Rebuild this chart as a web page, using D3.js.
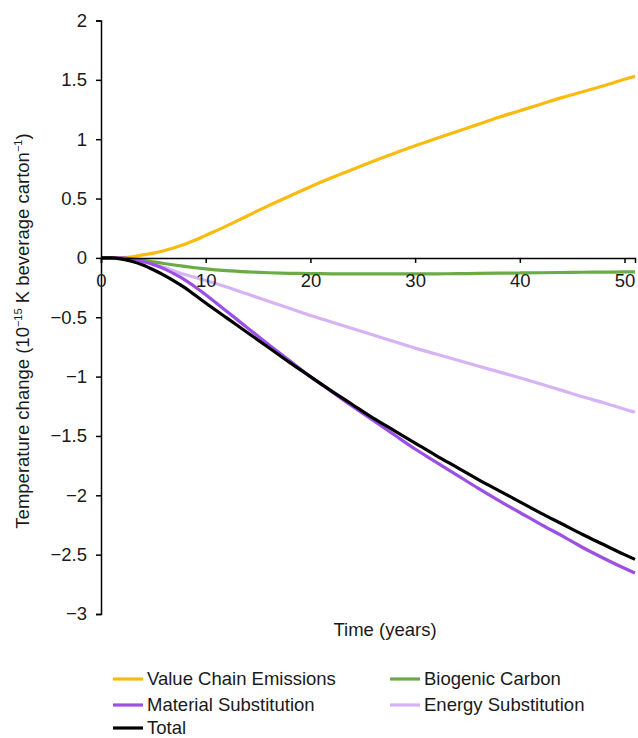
<!DOCTYPE html>
<html>
<head>
<meta charset="utf-8">
<script src="https://cdn.jsdelivr.net/npm/d3@7"></script>
<style>
  html, body { margin: 0; padding: 0; background: #fff; }
  svg { display: block; font-family: "Liberation Sans", Arial, sans-serif; }
</style>
</head>
<body>
<svg id="chart" width="638" height="738"></svg>
<script>
// ---- data ----
const years = [0, 1, 2, 3, 4, 5, 6, 7, 8, 9, 10, 12, 14, 16, 18, 20, 22, 24, 26, 28, 30, 32, 34, 36, 38, 40, 42, 44, 46, 48, 50, 51];
const valueChain = [0, 0, 0.003, 0.01, 0.025, 0.04, 0.06, 0.085, 0.115, 0.15, 0.19, 0.27, 0.355, 0.44, 0.52, 0.60, 0.675, 0.745, 0.815, 0.88, 0.945, 1.005, 1.065, 1.125, 1.185, 1.24, 1.295, 1.35, 1.40, 1.45, 1.505, 1.53];
const biogenic = [0, 0, 0, -0.008, -0.02, -0.033, -0.047, -0.06, -0.072, -0.083, -0.093, -0.108, -0.118, -0.125, -0.13, -0.132, -0.134, -0.135, -0.135, -0.135, -0.135, -0.134, -0.133, -0.131, -0.129, -0.127, -0.125, -0.123, -0.121, -0.12, -0.118, -0.118];
const material = [0, 0, 0, -0.01, -0.03, -0.055, -0.09, -0.135, -0.185, -0.245, -0.31, -0.45, -0.59, -0.73, -0.865, -1.00, -1.125, -1.25, -1.37, -1.49, -1.61, -1.72, -1.83, -1.94, -2.045, -2.145, -2.245, -2.34, -2.44, -2.53, -2.615, -2.655];
const energy = [0, 0, 0, -0.012, -0.03, -0.055, -0.08, -0.11, -0.14, -0.165, -0.19, -0.245, -0.305, -0.365, -0.425, -0.485, -0.54, -0.595, -0.65, -0.705, -0.76, -0.81, -0.86, -0.91, -0.96, -1.01, -1.063, -1.116, -1.17, -1.22, -1.275, -1.30];
const total = [0, 0, -0.01, -0.03, -0.06, -0.10, -0.145, -0.195, -0.25, -0.315, -0.38, -0.505, -0.63, -0.755, -0.88, -1.00, -1.12, -1.235, -1.35, -1.455, -1.56, -1.665, -1.765, -1.865, -1.96, -2.055, -2.15, -2.24, -2.33, -2.415, -2.50, -2.54];

const seriesNames = ["Value Chain Emissions", "Biogenic Carbon", "Material Substitution", "Energy Substitution", "Total"];
const seriesValues = [valueChain, biogenic, material, energy, total];
const seriesColors = ["#FBBA0E", "#6AAB45", "#9B4FE6", "#D5B3F5", "#000000"];

const xTicks = [0, 10, 20, 30, 40, 50];
const yTicks = [-3, -2.5, -2, -1.5, -1, -0.5, 0, 0.5, 1, 1.5, 2];

// ---- layout ----
const svg = d3.select("#chart");
const x = d3.scaleLinear().domain([0, 51]).range([101, 635]);
const y = d3.scaleLinear().domain([-3, 2]).range([614, 20.5]);
const fontSize = 18.5;
const textColor = "#1a1a1a";
const fontFam = "Liberation Sans, Arial, sans-serif";

const line = d3.line()
  .x((d, i) => x(years[i]))
  .y(d => y(d))
  .curve(d3.curveMonotoneX);

const drawOrder = [3, 1, 0, 2, 4];
drawOrder.forEach(k => {
  svg.append("path")
    .datum(seriesValues[k])
    .attr("fill", "none")
    .attr("stroke", seriesColors[k])
    .attr("stroke-width", 3.2)
    .attr("stroke-linejoin", "round")
    .attr("d", line);
});

// y axis
const fmt = d => d3.format("")(d).replace("-", "\u2212");
const yAxis = svg.append("g")
  .attr("transform", `translate(${x(0)},0)`)
  .call(d3.axisLeft(y).tickValues(yTicks).tickSize(5).tickPadding(9).tickFormat(fmt));
yAxis.select(".domain").attr("stroke", "#000").attr("stroke-width", 1.5);
yAxis.selectAll(".tick line").attr("stroke", "#000").attr("stroke-width", 1.5);
yAxis.selectAll("text").attr("font-size", fontSize).attr("fill", textColor).attr("font-family", fontFam);

// x axis at y=0
const xAxis = svg.append("g")
  .attr("transform", `translate(0,${y(0)})`)
  .call(d3.axisBottom(x).tickValues(xTicks).tickSize(5).tickPadding(11).tickFormat(d3.format("d")));
xAxis.select(".domain").attr("stroke", "#000").attr("stroke-width", 1.5);
xAxis.selectAll(".tick line").attr("stroke", "#000").attr("stroke-width", 1.5);
xAxis.selectAll("text").attr("font-size", fontSize).attr("fill", textColor).attr("font-family", fontFam);

// y axis label
const yl = svg.append("text")
  .attr("transform", "translate(29,331) rotate(-90)")
  .attr("text-anchor", "middle")
  .attr("font-size", fontSize)
  .attr("fill", textColor);
yl.append("tspan").text("Temperature change (10");
yl.append("tspan").attr("font-size", 11).attr("baseline-shift", "7").text("\u221215");
yl.append("tspan").text(" K beverage carton");
yl.append("tspan").attr("font-size", 11).attr("baseline-shift", "7").text("\u22121");
yl.append("tspan").text(")");

// x axis label
svg.append("text")
  .attr("x", 385).attr("y", 636)
  .attr("text-anchor", "middle")
  .attr("font-size", fontSize)
  .attr("fill", textColor)
  .text("Time (years)");

// legend
const legendPos = [
  {lx: 113, ly: 679},
  {lx: 390, ly: 679},
  {lx: 113, ly: 705},
  {lx: 390, ly: 705},
  {lx: 113, ly: 728}
];
const legend = svg.append("g");
seriesNames.forEach((name, k) => {
  const p = legendPos[k];
  legend.append("line")
    .attr("x1", p.lx).attr("x2", p.lx + 30)
    .attr("y1", p.ly).attr("y2", p.ly)
    .attr("stroke", seriesColors[k]).attr("stroke-width", 3.2);
  legend.append("text")
    .attr("x", p.lx + 34).attr("y", p.ly)
    .attr("dy", "0.35em")
    .attr("font-size", fontSize)
    .attr("fill", textColor)
    .text(name);
});
</script>
</body>
</html>
